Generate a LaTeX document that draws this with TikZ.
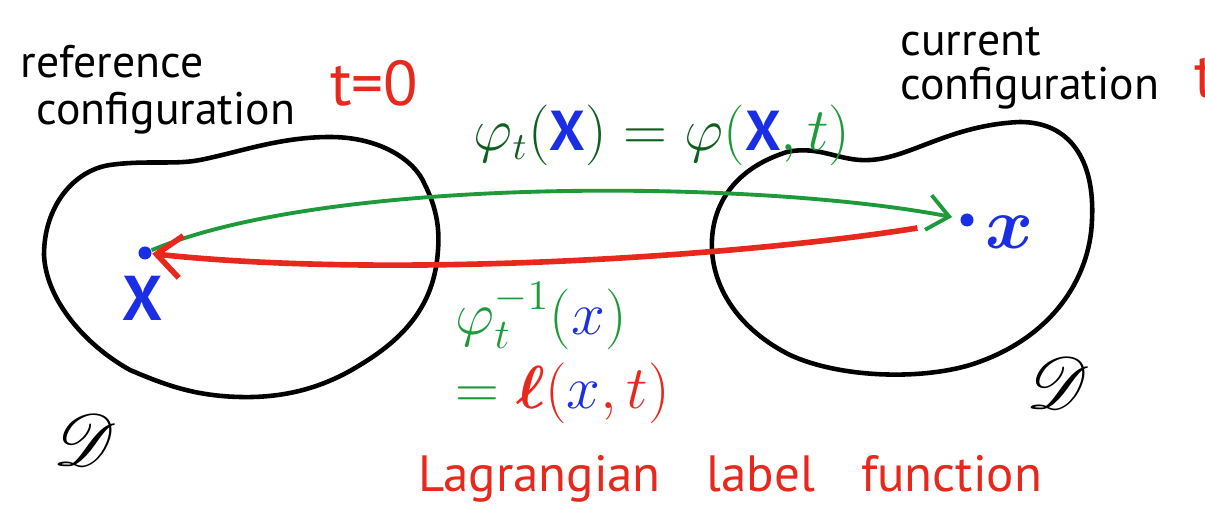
\documentclass[tikz,border=0pt]{standalone}
\usepackage{fontspec}
\setmainfont{PT Sans}
\usepackage{amsmath,amssymb,mathrsfs}
\usetikzlibrary{arrows.meta}
\definecolor{phigreen}{HTML}{0F5E1F}
\definecolor{lgreen}{HTML}{1F9A3A}
\definecolor{pblue}{HTML}{1A2EE6}
\definecolor{pred}{HTML}{E8281C}

\begin{document}
\begin{tikzpicture}[x=0.01cm, y=-0.01cm,
  blob/.style={draw=black, line width=1.3pt},
  pt/.style={circle, fill=pblue, inner sep=0pt, minimum size=0.13cm},
  hand/.style={font=\fontsize{13}{13}\selectfont, anchor=base west, inner sep=0pt},
  fwd/.style={lgreen, line width=1.1pt, -{Straight Barb[length=6pt,width=10pt]}},
  bwd/.style={pred, line width=1.6pt, -{Straight Barb[length=7pt,width=12pt]}},
]
\useasboundingbox (0,0) rectangle (1205,531);

% the two bodies
\draw[blob] (44,255) .. controls (44,205) and (75,170) .. (110,165)
  .. controls (145,160) and (175,165) .. (200,160)
  .. controls (240,152) and (280,137) .. (330,137)
  .. controls (380,137) and (415,160) .. (425,185)
  .. controls (435,205) and (440,225) .. (438,250)
  .. controls (435,300) and (410,335) .. (360,365)
  .. controls (320,390) and (280,398) .. (240,397)
  .. controls (195,396) and (165,385) .. (130,370)
  .. controls (85,345) and (46,300) .. (44,255) -- cycle;
\draw[blob] (712,250) .. controls (710,210) and (730,170) .. (787,152)
  .. controls (820,145) and (840,162) .. (870,160)
  .. controls (910,158) and (950,125) .. (1020,122)
  .. controls (1070,122) and (1095,160) .. (1092,220)
  .. controls (1090,280) and (1050,340) .. (970,365)
  .. controls (920,380) and (840,378) .. (790,355)
  .. controls (740,330) and (714,290) .. (712,250) -- cycle;

\node[pt] (X) at (145,253) {};
\node[pt] (x) at (967,220) {};
\node[text=pblue, font=\fontsize{18}{18}\selectfont] (Xl) at (143,298) {$\mathbf{X}$};
\node[text=pblue, font=\fontsize{20}{20}\selectfont] (xl) at (1010,232) {$\boldsymbol{x}$};

\draw[fwd, shorten >=0.08cm] (X) .. controls (330,175) and (760,180) .. (x);
\draw[bwd, shorten <=0.43cm] (x) .. controls (750,255) and (400,280) .. (X);

% labels of the configurations
\node[hand] (refa) at (20,78) {reference};
\node[hand] (refb) at (36,125) {configuration};
\node[text=pred, font=\fontsize{18}{18}\selectfont, anchor=base west] (t0) at (318,106) {t=0};
\node[hand] (cura) at (900,56) {current};
\node[hand] (curb) at (900,100) {configuration};
\node[text=pred, font=\fontsize{18}{18}\selectfont, anchor=base west] (t1) at (1182,98) {t};

% mappings
\node[text=phigreen, font=\fontsize{16}{16}\selectfont] (map) at (662,135)
  {$\varphi_t(\textcolor{pblue}{\mathbf{X}}) = \varphi\textcolor{lgreen}{(}\textcolor{pblue}{\mathbf{X}}\textcolor{lgreen}{,t)}$};
\node[text=lgreen, font=\fontsize{17}{19}\selectfont, anchor=north west, align=left, inner sep=0pt]
  (inv) at (455,282)
  {$\varphi_t^{-1}(\textcolor{pblue}{x})$\\[2pt]
   $=\textcolor{pred}{\boldsymbol{\ell}(}\textcolor{pblue}{x}\textcolor{pred}{,t)}$};
\node[text=pred, font=\fontsize{14.5}{14.5}\selectfont, anchor=base] (lag) at (730,492)
  {Lagrangian\hspace{0.9em}label\hspace{0.9em}function};

\node[font=\fontsize{22}{22}\selectfont] (D0) at (85,440) {$\mathscr{D}$};
\node[font=\fontsize{22}{22}\selectfont] (D1) at (1058,383) {$\mathscr{D}$};
\end{tikzpicture}
\end{document}
